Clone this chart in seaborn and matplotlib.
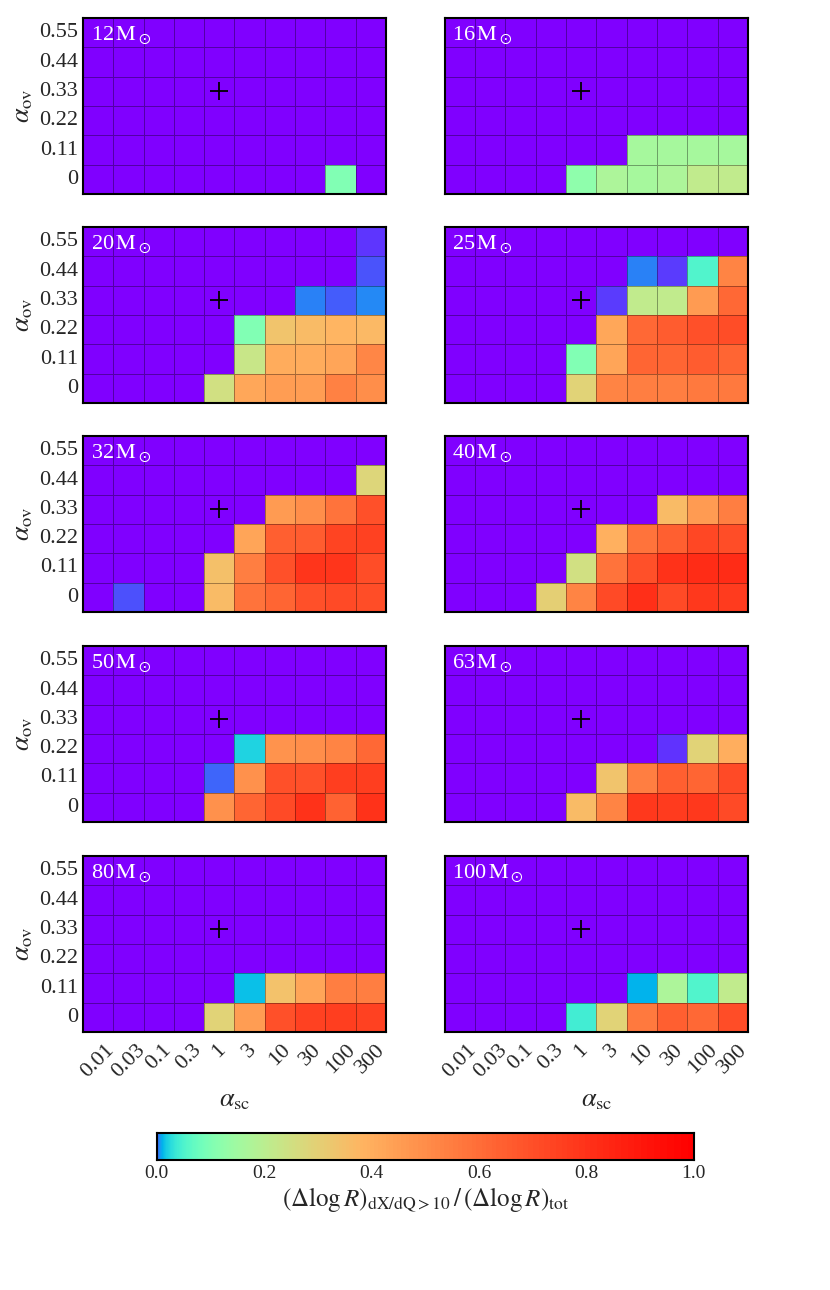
import numpy as np
import pandas as pd
import matplotlib
matplotlib.use("Agg")
import matplotlib.pyplot as plt
from matplotlib import colors
import seaborn as sns

# DATA
alpha_sc = ["0.01", "0.03", "0.1", "0.3", "1", "3", "10", "30", "100", "300"]
alpha_ov = ["0", "0.11", "0.22", "0.33", "0.44", "0.55"]
masses = [12, 16, 20, 25, 32, 40, 50, 63, 80, 100]
fiducial_sc = "1"
fiducial_ov = "0.33"

# rows go from alpha_ov = 0 (first) to 0.55 (last)
frac_12 = [[0, 0, 0, 0, 0, 0, 0, 0, 0.10, 0],
           [0, 0, 0, 0, 0, 0, 0, 0, 0, 0],
           [0, 0, 0, 0, 0, 0, 0, 0, 0, 0],
           [0, 0, 0, 0, 0, 0, 0, 0, 0, 0],
           [0, 0, 0, 0, 0, 0, 0, 0, 0, 0],
           [0, 0, 0, 0, 0, 0, 0, 0, 0, 0]]
frac_16 = [[0, 0, 0, 0, 0.12, 0.17, 0.16, 0.17, 0.21, 0.21],
           [0, 0, 0, 0, 0, 0, 0.16, 0.16, 0.16, 0.16],
           [0, 0, 0, 0, 0, 0, 0, 0, 0, 0],
           [0, 0, 0, 0, 0, 0, 0, 0, 0, 0],
           [0, 0, 0, 0, 0, 0, 0, 0, 0, 0],
           [0, 0, 0, 0, 0, 0, 0, 0, 0, 0]]
frac_20 = [[0, 0, 0, 0, 0.25, 0.42, 0.45, 0.45, 0.54, 0.50],
           [0, 0, 0, 0, 0, 0.23, 0.41, 0.41, 0.43, 0.52],
           [0, 0, 0, 0, 0, 0.10, 0.335, 0.36, 0.38, 0.37],
           [0, 0, 0, 0, 0, 0, 0, 0.0027, 0.00085, 0.0033],
           [0, 0, 0, 0, 0, 0, 0, 0, 0, 0.0006],
           [0, 0, 0, 0, 0, 0, 0, 0, 0, 0.00014]]
frac_25 = [[0, 0, 0, 0, 0.29, 0.53, 0.55, 0.55, 0.56, 0.56],
           [0, 0, 0, 0, 0.10, 0.43, 0.63, 0.63, 0.66, 0.63],
           [0, 0, 0, 0, 0, 0.42, 0.62, 0.66, 0.69, 0.70],
           [0, 0, 0, 0, 0, 0.0002, 0.21, 0.21, 0.46, 0.62],
           [0, 0, 0, 0, 0, 0, 0.0027, 0.0002, 0.05, 0.53],
           [0, 0, 0, 0, 0, 0, 0, 0, 0, 0]]
frac_32 = [[0, 0.0005, 0, 0, 0.36, 0.58, 0.63, 0.69, 0.72, 0.70],
           [0, 0, 0, 0, 0.35, 0.55, 0.69, 0.79, 0.79, 0.70],
           [0, 0, 0, 0, 0, 0.43, 0.65, 0.66, 0.74, 0.75],
           [0, 0, 0, 0, 0, 0, 0.46, 0.50, 0.58, 0.69],
           [0, 0, 0, 0, 0, 0, 0, 0, 0, 0.28],
           [0, 0, 0, 0, 0, 0, 0, 0, 0, 0]]
frac_40 = [[0, 0, 0, 0.30, 0.53, 0.71, 0.81, 0.71, 0.78, 0.77],
           [0, 0, 0, 0, 0.25, 0.58, 0.69, 0.80, 0.82, 0.82],
           [0, 0, 0, 0, 0, 0.39, 0.58, 0.65, 0.73, 0.70],
           [0, 0, 0, 0, 0, 0, 0, 0.36, 0.46, 0.55],
           [0, 0, 0, 0, 0, 0, 0, 0, 0, 0],
           [0, 0, 0, 0, 0, 0, 0, 0, 0, 0]]
frac_50 = [[0, 0, 0, 0, 0.49, 0.63, 0.71, 0.80, 0.64, 0.80],
           [0, 0, 0, 0, 0.0011, 0.49, 0.69, 0.69, 0.76, 0.76],
           [0, 0, 0, 0, 0, 0.02, 0.48, 0.50, 0.53, 0.62],
           [0, 0, 0, 0, 0, 0, 0, 0, 0, 0],
           [0, 0, 0, 0, 0, 0, 0, 0, 0, 0],
           [0, 0, 0, 0, 0, 0, 0, 0, 0, 0]]
frac_63 = [[0, 0, 0, 0, 0.36, 0.53, 0.78, 0.77, 0.78, 0.72],
           [0, 0, 0, 0, 0, 0.335, 0.55, 0.65, 0.63, 0.72],
           [0, 0, 0, 0, 0, 0, 0, 0.0001, 0.29, 0.40],
           [0, 0, 0, 0, 0, 0, 0, 0, 0, 0],
           [0, 0, 0, 0, 0, 0, 0, 0, 0, 0],
           [0, 0, 0, 0, 0, 0, 0, 0, 0, 0]]
frac_80 = [[0, 0, 0, 0, 0.29, 0.45, 0.69, 0.75, 0.76, 0.75],
           [0, 0, 0, 0, 0, 0.013, 0.34, 0.43, 0.55, 0.55],
           [0, 0, 0, 0, 0, 0, 0, 0, 0, 0],
           [0, 0, 0, 0, 0, 0, 0, 0, 0, 0],
           [0, 0, 0, 0, 0, 0, 0, 0, 0, 0],
           [0, 0, 0, 0, 0, 0, 0, 0, 0, 0]]
frac_100 = [[0, 0, 0, 0, 0.04, 0.29, 0.56, 0.65, 0.62, 0.70],
            [0, 0, 0, 0, 0, 0, 0.0098, 0.17, 0.05, 0.21],
            [0, 0, 0, 0, 0, 0, 0, 0, 0, 0],
            [0, 0, 0, 0, 0, 0, 0, 0, 0, 0],
            [0, 0, 0, 0, 0, 0, 0, 0, 0, 0],
            [0, 0, 0, 0, 0, 0, 0, 0, 0, 0]]
panels = [frac_12, frac_16, frac_20, frac_25, frac_32,
          frac_40, frac_50, frac_63, frac_80, frac_100]

# STYLE
sns.set_style("white")
plt.rcParams['font.family'] = ['Liberation Serif', 'DejaVu Serif']
plt.rcParams['mathtext.fontset'] = 'stix'

norm = colors.PowerNorm(gamma=0.3, vmin=0, vmax=1)
cmap = plt.get_cmap('rainbow')

fig = plt.figure(figsize=(8.3, 12.9), dpi=100)

lefts = [0.1, 0.536]
bottoms = [0.8496, 0.6876, 0.5256, 0.3628, 0.2]
w, h = 0.365, 0.1364

fx = alpha_sc.index(fiducial_sc) + 0.5
fy = alpha_ov[::-1].index(fiducial_ov) + 0.5

for i, (m, vals) in enumerate(zip(masses, panels)):
    row, col = i // 2, i % 2
    ax = fig.add_axes([lefts[col], bottoms[row], w, h])
    df = pd.DataFrame(vals, index=alpha_ov, columns=alpha_sc).iloc[::-1]
    sns.heatmap(df, ax=ax, cmap=cmap, norm=norm, cbar=False,
                linewidths=0.6, linecolor=(0, 0, 0, 0.35))
    for s in ax.spines.values():
        s.set_visible(True)
        s.set_linewidth(1.5)
        s.set_color('k')
    ax.plot(fx, fy, '+', color='k', ms=13, mew=1.3)
    ax.text(0.025, 0.965, r'%d$\,\mathrm{M}_\odot$' % m, transform=ax.transAxes,
            color='white', fontsize=16, ha='left', va='top')
    # labels on every column, tick marks on every other one (minor ticks)
    ax.set_xticks(np.arange(len(alpha_sc)) + 0.5)
    ax.set_xticks(np.arange(0, len(alpha_sc), 2) + 0.5, minor=True)
    ax.set_yticks(np.arange(len(alpha_ov)) + 0.5)
    ax.tick_params(axis='x', which='major', length=0, pad=6)
    ax.tick_params(axis='x', which='minor', direction='in', top=True,
                   bottom=True, length=4, width=1, color='k')
    ax.tick_params(axis='y', direction='in', left=True, right=True,
                   length=4, width=1, color='k')
    ax.tick_params(labelsize=16)
    if row == 4:
        ax.set_xticklabels(alpha_sc, rotation=45, ha='center')
        ax.set_xlabel(r'$\alpha_{\rm sc}$', fontsize=19, labelpad=6)
    else:
        ax.set_xticklabels([])
        ax.set_xlabel('')
    if col == 0:
        ax.set_yticklabels(alpha_ov[::-1], rotation=0)
        ax.set_ylabel(r'$\alpha_{\rm ov}$', fontsize=19, labelpad=3)
    else:
        ax.set_yticklabels([])
        ax.set_ylabel('')

# colorbar drawn as a gradient with a linear value axis
cax = fig.add_axes([0.189, 0.1008, 0.647, 0.0209])
grad = np.linspace(0, 1, 1024)[None, :]
cax.imshow(grad, cmap=cmap, norm=norm, aspect='auto', extent=[0, 1, 0, 1],
           interpolation='nearest')
cax.set_yticks([])
cax.set_xticks([0.0, 0.2, 0.4, 0.6, 0.8, 1.0])
cax.set_xticklabels(['0.0', '0.2', '0.4', '0.6', '0.8', '1.0'])
cax.tick_params(direction='in', length=5, width=1, labelsize=14, color='k')
for s in cax.spines.values():
    s.set_linewidth(1.5)
    s.set_color('k')
cax.set_xlabel(r'$(\Delta\log R)_{\rm dX/dQ>10}\,/\,(\Delta\log R)_{\rm tot}$',
               fontsize=18, labelpad=3)

fig.savefig('out.png', dpi=100)
